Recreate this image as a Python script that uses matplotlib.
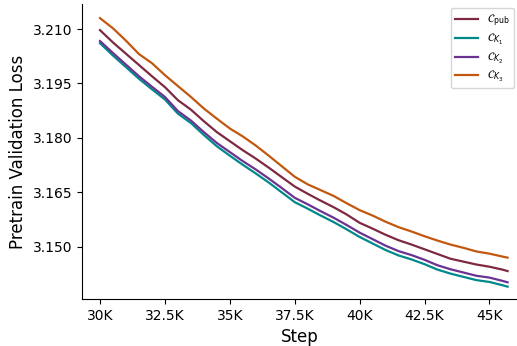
import numpy as np
import matplotlib
matplotlib.use("Agg")
import matplotlib.pyplot as plt

# steps (every 500, last eval at 45.7K)
steps = [30000, 30500, 31000, 31500, 32000, 32500, 33000, 33500, 34000, 34500,
         35000, 35500, 36000, 36500, 37000, 37500, 38000, 38500, 39000, 39500,
         40000, 40500, 41000, 41500, 42000, 42500, 43000, 43500, 44000, 44500,
         45000, 45500, 45700]

loss_pub = [3.2097, 3.2063, 3.2032, 3.2001, 3.1970, 3.1940, 3.1904, 3.1878, 3.1846, 3.1816,
            3.1791, 3.1766, 3.1743, 3.1718, 3.1692, 3.1666, 3.1646, 3.1627, 3.1609, 3.1589,
            3.1566, 3.1550, 3.1533, 3.1518, 3.1506, 3.1493, 3.1480, 3.1467, 3.1459, 3.1451,
            3.1445, 3.1437, 3.1433]
loss_k1 = [3.2061, 3.2027, 3.1995, 3.1963, 3.1934, 3.1906, 3.1867, 3.1841, 3.1808, 3.1777,
           3.1751, 3.1726, 3.1702, 3.1677, 3.1650, 3.1623, 3.1605, 3.1586, 3.1568, 3.1548,
           3.1527, 3.1509, 3.1491, 3.1476, 3.1465, 3.1452, 3.1437, 3.1426, 3.1417, 3.1408,
           3.1403, 3.1394, 3.1390]
loss_k2 = [3.2067, 3.2034, 3.2002, 3.1970, 3.1941, 3.1913, 3.1874, 3.1848, 3.1816, 3.1786,
           3.1761, 3.1736, 3.1713, 3.1688, 3.1662, 3.1635, 3.1617, 3.1598, 3.1580, 3.1560,
           3.1539, 3.1521, 3.1503, 3.1488, 3.1477, 3.1464, 3.1449, 3.1438, 3.1429, 3.1420,
           3.1415, 3.1406, 3.1402]
loss_k3 = [3.2130, 3.2102, 3.2068, 3.2031, 3.2006, 3.1973, 3.1943, 3.1913, 3.1881, 3.1853,
           3.1826, 3.1804, 3.1779, 3.1751, 3.1722, 3.1693, 3.1672, 3.1656, 3.1640, 3.1620,
           3.1601, 3.1586, 3.1569, 3.1554, 3.1542, 3.1529, 3.1517, 3.1506, 3.1497, 3.1487,
           3.1481, 3.1473, 3.1470]

series = [
    (r"$\mathcal{C}_{\mathrm{pub}}$", loss_pub, "#7d2a40"),
    (r"$\mathcal{C}_{K_1}$", loss_k1, "#00898a"),
    (r"$\mathcal{C}_{K_2}$", loss_k2, "#6b3391"),
    (r"$\mathcal{C}_{K_3}$", loss_k3, "#c2580f"),
]

xticks = [30000, 32500, 35000, 37500, 40000, 42500, 45000]
xticklabels = ["30K", "32.5K", "35K", "37.5K", "40K", "42.5K", "45K"]
yticks = [3.150, 3.165, 3.180, 3.195, 3.210]

fig = plt.figure(figsize=(5.17, 3.46), dpi=100)
ax = fig.add_axes([82 / 517, 47 / 346, 435 / 517, 295 / 346])

for label, vals, color in series:
    ax.plot(steps, vals, color=color, lw=1.6, label=label)

ax.set_xlim(29307, 46063)
ax.set_ylim(3.1356, 3.2169)
ax.set_xticks(xticks)
ax.set_xticklabels(xticklabels)
ax.set_yticks(yticks)
ax.set_yticklabels([f"{v:.3f}" for v in yticks])
ax.tick_params(labelsize=10)
ax.spines["top"].set_visible(False)
ax.spines["right"].set_visible(False)

ax.set_xlabel("Step", fontsize=12)
ax.set_ylabel("Pretrain Validation Loss", fontsize=12)

ax.legend(loc="upper left", bbox_to_anchor=(451 / 517, 338 / 346),
          bbox_transform=fig.transFigure, fontsize=8, handlelength=2.0,
          labelspacing=0.3, borderaxespad=0)

fig.savefig("out.png", dpi=100)
